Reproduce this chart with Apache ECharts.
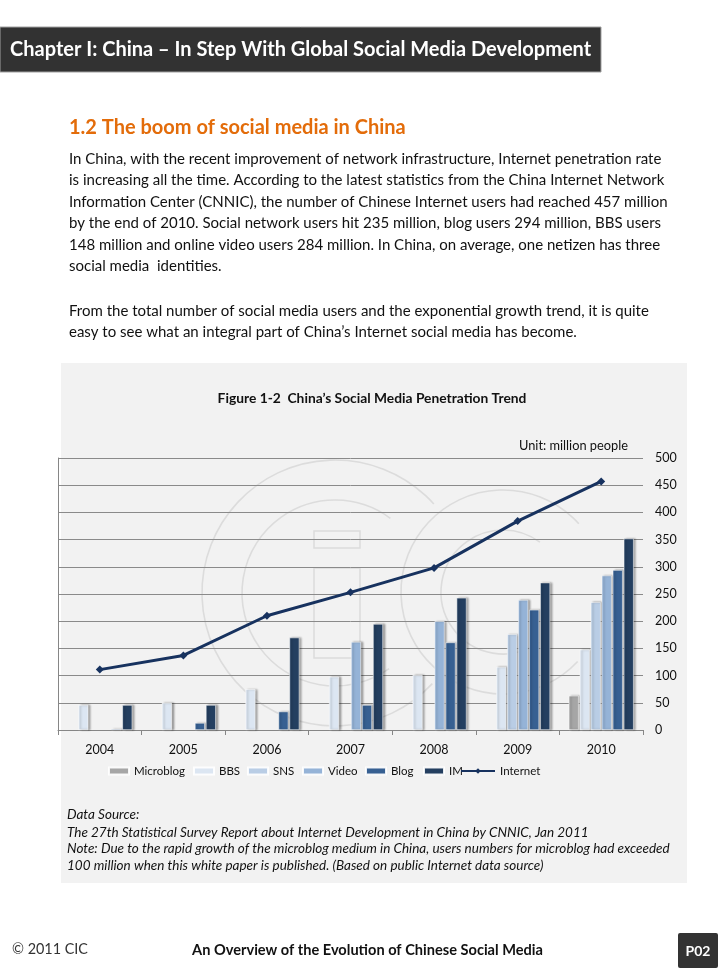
<!DOCTYPE html>
<html><head><meta charset="utf-8">
<script src="https://cdn.jsdelivr.net/npm/echarts@6/dist/echarts.min.js"></script>
<style>html,body{margin:0;padding:0;background:#fff}#c{width:728px;height:971px}</style>
</head><body><div id="c"></div>
<script>
// ---- data ----
const years = ['2004', '2005', '2006', '2007', '2008', '2009', '2010'];
const seriesNames = ['Microblog', 'BBS', 'SNS', 'Video', 'Blog', 'IM'];
const microblog = [null, null, null, null, null, null, 63];
const bbs = [46, 50, 75, 98, 101, 116, 148];
const sns = [null, null, null, null, null, 176, 235];
const video = [null, null, null, 162, 200, 239, 284];
const blog = [2, 13, 34, 46, 161, 221, 294];
const im = [46, 46, 170, 195, 243, 271, 352];
const internet = [111, 137, 210, 253, 298, 384, 457];
const yMin = 0, yMax = 500, yStep = 50;

const headerText = 'Chapter I: China \u2013 In Step With Global Social Media Development';
const sectionTitle = '1.2 The boom of social media in China';
const paraLines = [
  'In China, with the recent improvement of network infrastructure, Internet penetration rate',
  'is increasing all the time. According to the latest statistics from the China Internet Network',
  'Information Center (CNNIC), the number of Chinese Internet users had reached 457 million',
  'by the end of 2010. Social network users hit 235 million, blog users 294 million, BBS users',
  '148 million and online video users 284 million. In China, on average, one netizen has three',
  'social media  identities.'
];
const para2Lines = [
  'From the total number of social media users and the exponential growth trend, it is quite',
  'easy to see what an integral part of China\u2019s Internet social media has become.'
];
const figTitle = 'Figure 1-2  China\u2019s Social Media Penetration Trend';
const unitText = 'Unit: million people';
const noteLines = [
  'Data Source:',
  'The 27th Statistical Survey Report about Internet Development in China by CNNIC, Jan 2011',
  'Note: Due to the rapid growth of the microblog medium in China, users numbers for microblog had exceeded',
  '100 million when this white paper is published. (Based on public Internet data source)'
];
const footerLeft = '\u00A9 2011 CIC';
const footerCenter = 'An Overview of the Evolution of Chinese Social Media';
const pageNo = 'P02';

// ---- styles ----
const FONT = 'Lato, "Open Sans", sans-serif';
const barColors = ['#a6a6a6', '#dce6f2', '#b9cde5', '#95b3d7', '#376092', '#243f60'];
const barData = [microblog, bbs, sns, video, blog, im];
const legendLeft = [108, 193, 247, 302, 365, 423, 460];

const graphics = [];
graphics.push({ type: 'rect', shape: { x: 0, y: 27, width: 601, height: 45 }, style: { fill: '#323232', stroke: '#a0a0a0', lineWidth: 1 }, z: 0 });
graphics.push({ type: 'text', x: 10, y: 49.5, style: { text: headerText, fill: '#fff', font: 'bold 20px ' + FONT, textVerticalAlign: 'middle' } });
graphics.push({ type: 'text', x: 69, y: 128, style: { text: sectionTitle, fill: '#e36c0a', font: 'bold 20px ' + FONT, textVerticalAlign: 'middle' } });
const paraY = [159, 180.5, 202, 223.5, 245, 266.5];
paraLines.forEach((t, i) => graphics.push({ type: 'text', x: 69, y: paraY[i], style: { text: t, fill: '#111', font: '15px ' + FONT, textVerticalAlign: 'middle' } }));
const para2Y = [311, 332.5];
para2Lines.forEach((t, i) => graphics.push({ type: 'text', x: 69, y: para2Y[i], style: { text: t, fill: '#111', font: '15px ' + FONT, textVerticalAlign: 'middle' } }));
// chart panel
graphics.push({ type: 'rect', shape: { x: 61, y: 363, width: 626, height: 520 }, style: { fill: '#f2f2f2' }, z: -10 });
// faint watermark (CIC logo)
const wm = { stroke: '#dcdcdc', fill: null, lineWidth: 1.6 };
graphics.push({ type: 'arc', shape: { cx: 335, cy: 593, r: 133, startAngle: 0.75, endAngle: 5.55, clockwise: true }, style: wm, z: -9 });
graphics.push({ type: 'arc', shape: { cx: 335, cy: 593, r: 93, startAngle: 0.95, endAngle: 5.35, clockwise: true }, style: wm, z: -9 });
graphics.push({ type: 'rect', shape: { x: 314, y: 531, width: 46, height: 17 }, style: wm, z: -9 });
graphics.push({ type: 'rect', shape: { x: 314, y: 568, width: 46, height: 90 }, style: wm, z: -9 });
graphics.push({ type: 'arc', shape: { cx: 503, cy: 592, r: 102, startAngle: 0.75, endAngle: 5.55, clockwise: true }, style: wm, z: -9 });
graphics.push({ type: 'arc', shape: { cx: 503, cy: 592, r: 62, startAngle: 0.95, endAngle: 5.35, clockwise: true }, style: wm, z: -9 });
graphics.push({ type: 'text', x: 628, y: 446, style: { text: unitText, fill: '#111', font: '12.8px ' + FONT, textAlign: 'right', textVerticalAlign: 'middle' } });
const noteY = [815, 833, 849, 865.5];
noteLines.forEach((t, i) => graphics.push({ type: 'text', x: 67, y: noteY[i], style: { text: t, fill: '#111', font: 'italic 13.5px ' + FONT, textVerticalAlign: 'middle' } }));
// footer
graphics.push({ type: 'text', x: 12, y: 949, style: { text: footerLeft, fill: '#333', font: '14.4px ' + FONT, textVerticalAlign: 'middle' } });
graphics.push({ type: 'text', x: 367.5, y: 950, style: { text: footerCenter, fill: '#111', font: 'bold 14.6px ' + FONT, textAlign: 'center', textVerticalAlign: 'middle' } });
graphics.push({ type: 'rect', shape: { x: 678, y: 933, width: 40, height: 35, r: 2 }, style: { fill: '#333' } });
graphics.push({ type: 'text', x: 698, y: 951, style: { text: pageNo, fill: '#fff', font: 'bold 14px ' + FONT, textAlign: 'center', textVerticalAlign: 'middle' } });

const series = seriesNames.map((name, i) => ({
  name, type: 'bar', data: barData[i], barWidth: 10, barGap: '10%', yAxisIndex: 0,
  itemStyle: { color: barColors[i], borderColor: 'rgba(255,255,255,0.9)', borderWidth: 0.6,
    shadowColor: 'rgba(0,0,0,0.35)', shadowBlur: 2, shadowOffsetX: 2, shadowOffsetY: 0 },
  emphasis: { disabled: true }, z: 2
}));
series.push({
  name: 'Internet', type: 'line', data: internet, yAxisIndex: 0,
  symbol: 'diamond', symbolSize: 8, lineStyle: { color: '#17325f', width: 3 },
  itemStyle: { color: '#17325f' }, emphasis: { disabled: true }, z: 5
});

const legendNames = seriesNames.concat(['Internet']);
const legends = legendNames.map((name, i) => ({
  data: [name], left: legendLeft[i], top: 765, padding: 0,
  itemWidth: name === 'Internet' ? 34 : 20, itemHeight: 7, itemTextGap: name === 'Internet' ? 0 : 0,
  icon: name === 'Internet' ? undefined : 'rect',
  textStyle: { fontSize: 11.5, color: '#111', fontFamily: FONT }, selectedMode: false
}));

const chart = echarts.init(document.getElementById('c'), null, { renderer: 'canvas' });
chart.setOption({
  backgroundColor: '#ffffff',
  animation: false,
  textStyle: { fontFamily: FONT },
  title: { text: figTitle, left: 372, top: 392, textAlign: 'center', padding: 0,
    textStyle: { fontSize: 13.8, fontWeight: 'bold', color: '#111', fontFamily: FONT } },
  graphic: graphics,
  legend: legends,
  grid: { left: 58, top: 458, width: 585, height: 272, containLabel: false },
  xAxis: { type: 'category', data: years, boundaryGap: true,
    axisLine: { lineStyle: { color: '#868686' } },
    axisTick: { show: true, length: 5, lineStyle: { color: '#868686' } },
    axisLabel: { margin: 13, fontSize: 12.5, color: '#111', fontFamily: FONT } },
  yAxis: [
    { type: 'value', position: 'right', min: yMin, max: yMax, interval: yStep,
      axisLine: { show: false }, axisTick: { show: false },
      axisLabel: { margin: 12, fontSize: 12.5, color: '#111', fontFamily: FONT, align: 'left' },
      splitLine: { lineStyle: { color: '#8a8a8a', width: 1 } } },
    { type: 'value', position: 'left', min: yMin, max: yMax, interval: yStep,
      axisLine: { show: true, lineStyle: { color: '#868686' } }, axisTick: { show: false },
      axisLabel: { show: false }, splitLine: { show: false } }
  ],
  series
});
</script></body></html>
